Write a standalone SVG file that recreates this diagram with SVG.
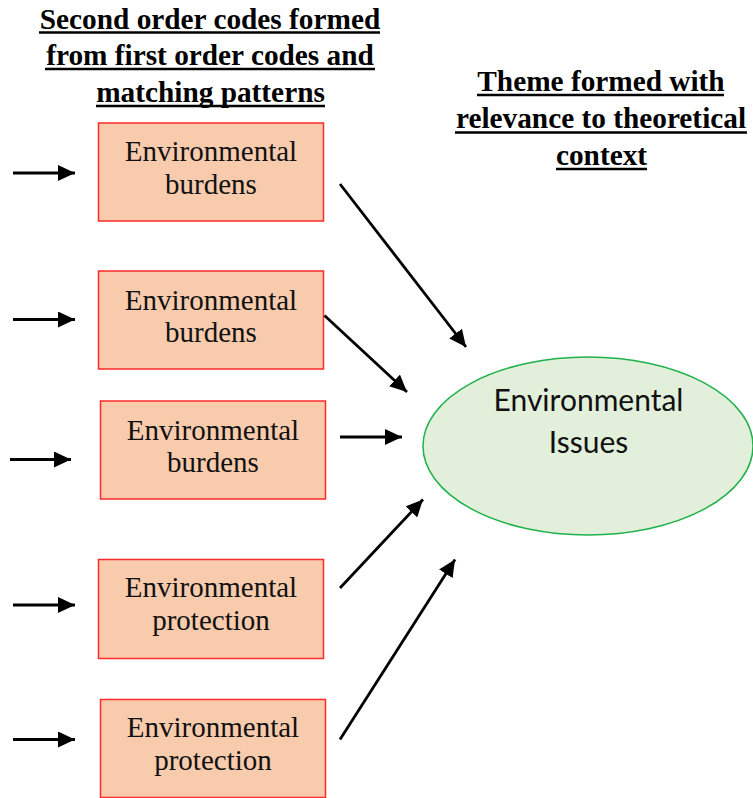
<svg xmlns="http://www.w3.org/2000/svg" width="753" height="798" viewBox="0 0 753 798">
  <style>
    .hdr { font-family: "Liberation Serif", "Times New Roman", serif; font-weight: bold; font-size: 29.3px; fill: #000; text-anchor: middle; }
    .ul { stroke: #000; stroke-width: 2.4; }
    .box { fill: #f8cbad; stroke: #ff2a2a; stroke-width: 1.5; }
    .btxt { font-family: "Liberation Serif", "Times New Roman", serif; font-size: 29px; fill: #111; text-anchor: middle; }
    .theme { fill: #e2efda; stroke: #1fb14a; stroke-width: 1.5; }
    .ttxt { font-family: Lato, "Open Sans", sans-serif; font-size: 30px; fill: #111; text-anchor: middle; }
    .conn line { stroke: #000; stroke-width: 2.8; marker-end: url(#arrow); }
  </style>
  <defs>
    <marker id="arrow" markerUnits="userSpaceOnUse" markerWidth="18" markerHeight="16" refX="17" refY="8" orient="auto">
      <path d="M0,0 L17,8 L0,16 z" fill="#000"/>
    </marker>
  </defs>
  <rect width="753" height="798" fill="#fff"/>

  <!-- column headings -->
  <g id="heading-codes">
    <text class="hdr" x="210" y="29">Second order codes formed</text>
    <line class="ul" x1="39" y1="32.5" x2="380" y2="32.5"/>
    <text class="hdr" x="210" y="65">from first order codes and</text>
    <line class="ul" x1="45" y1="69" x2="375" y2="69"/>
    <text class="hdr" x="210.5" y="101.5">matching patterns</text>
    <line class="ul" x1="96" y1="106" x2="325" y2="106"/>
  </g>
  <g id="heading-theme">
    <text class="hdr" x="601" y="91">Theme formed with</text>
    <line class="ul" x1="477" y1="95" x2="724" y2="95"/>
    <text class="hdr" x="601" y="128">relevance to theoretical</text>
    <line class="ul" x1="455" y1="132.5" x2="747" y2="132.5"/>
    <text class="hdr" x="601.5" y="165">context</text>
    <line class="ul" x1="556" y1="169" x2="647" y2="169"/>
  </g>

  <!-- second order codes -->
  <g id="code-1">
    <rect class="box" x="98.5" y="123" width="225" height="98"/>
    <text class="btxt" x="211" y="161">Environmental</text>
    <text class="btxt" x="211" y="193.5">burdens</text>
  </g>
  <g id="code-2">
    <rect class="box" x="98.5" y="271" width="225" height="98"/>
    <text class="btxt" x="211" y="309.5">Environmental</text>
    <text class="btxt" x="211" y="341.5">burdens</text>
  </g>
  <g id="code-3">
    <rect class="box" x="100.5" y="401" width="225" height="98"/>
    <text class="btxt" x="213" y="439.5">Environmental</text>
    <text class="btxt" x="213" y="471.5">burdens</text>
  </g>
  <g id="code-4">
    <rect class="box" x="98.5" y="559.5" width="225" height="99"/>
    <text class="btxt" x="211" y="597">Environmental</text>
    <text class="btxt" x="211" y="630">protection</text>
  </g>
  <g id="code-5">
    <rect class="box" x="100.5" y="699.5" width="225" height="98"/>
    <text class="btxt" x="213" y="736.5">Environmental</text>
    <text class="btxt" x="213" y="770">protection</text>
  </g>

  <!-- theme -->
  <g id="theme">
    <ellipse class="theme" cx="588" cy="446" rx="165" ry="89"/>
    <text class="ttxt" x="588.5" y="411">Environmental</text>
    <text class="ttxt" x="588.5" y="453">Issues</text>
  </g>

  <!-- connectors -->
  <g id="connectors" class="conn">
    <line x1="13" y1="173" x2="75" y2="173"/>
    <line x1="13" y1="319.5" x2="75" y2="319.5"/>
    <line x1="10" y1="459.5" x2="71" y2="459.5"/>
    <line x1="13" y1="605" x2="75" y2="605"/>
    <line x1="13" y1="739.5" x2="75" y2="739.5"/>
    <line x1="340" y1="184" x2="466" y2="347"/>
    <line x1="324.5" y1="315.5" x2="407" y2="392"/>
    <line x1="340" y1="437" x2="402" y2="437"/>
    <line x1="340" y1="588" x2="423" y2="499.5"/>
    <line x1="340" y1="739.5" x2="455" y2="559.5"/>
  </g>
</svg>
